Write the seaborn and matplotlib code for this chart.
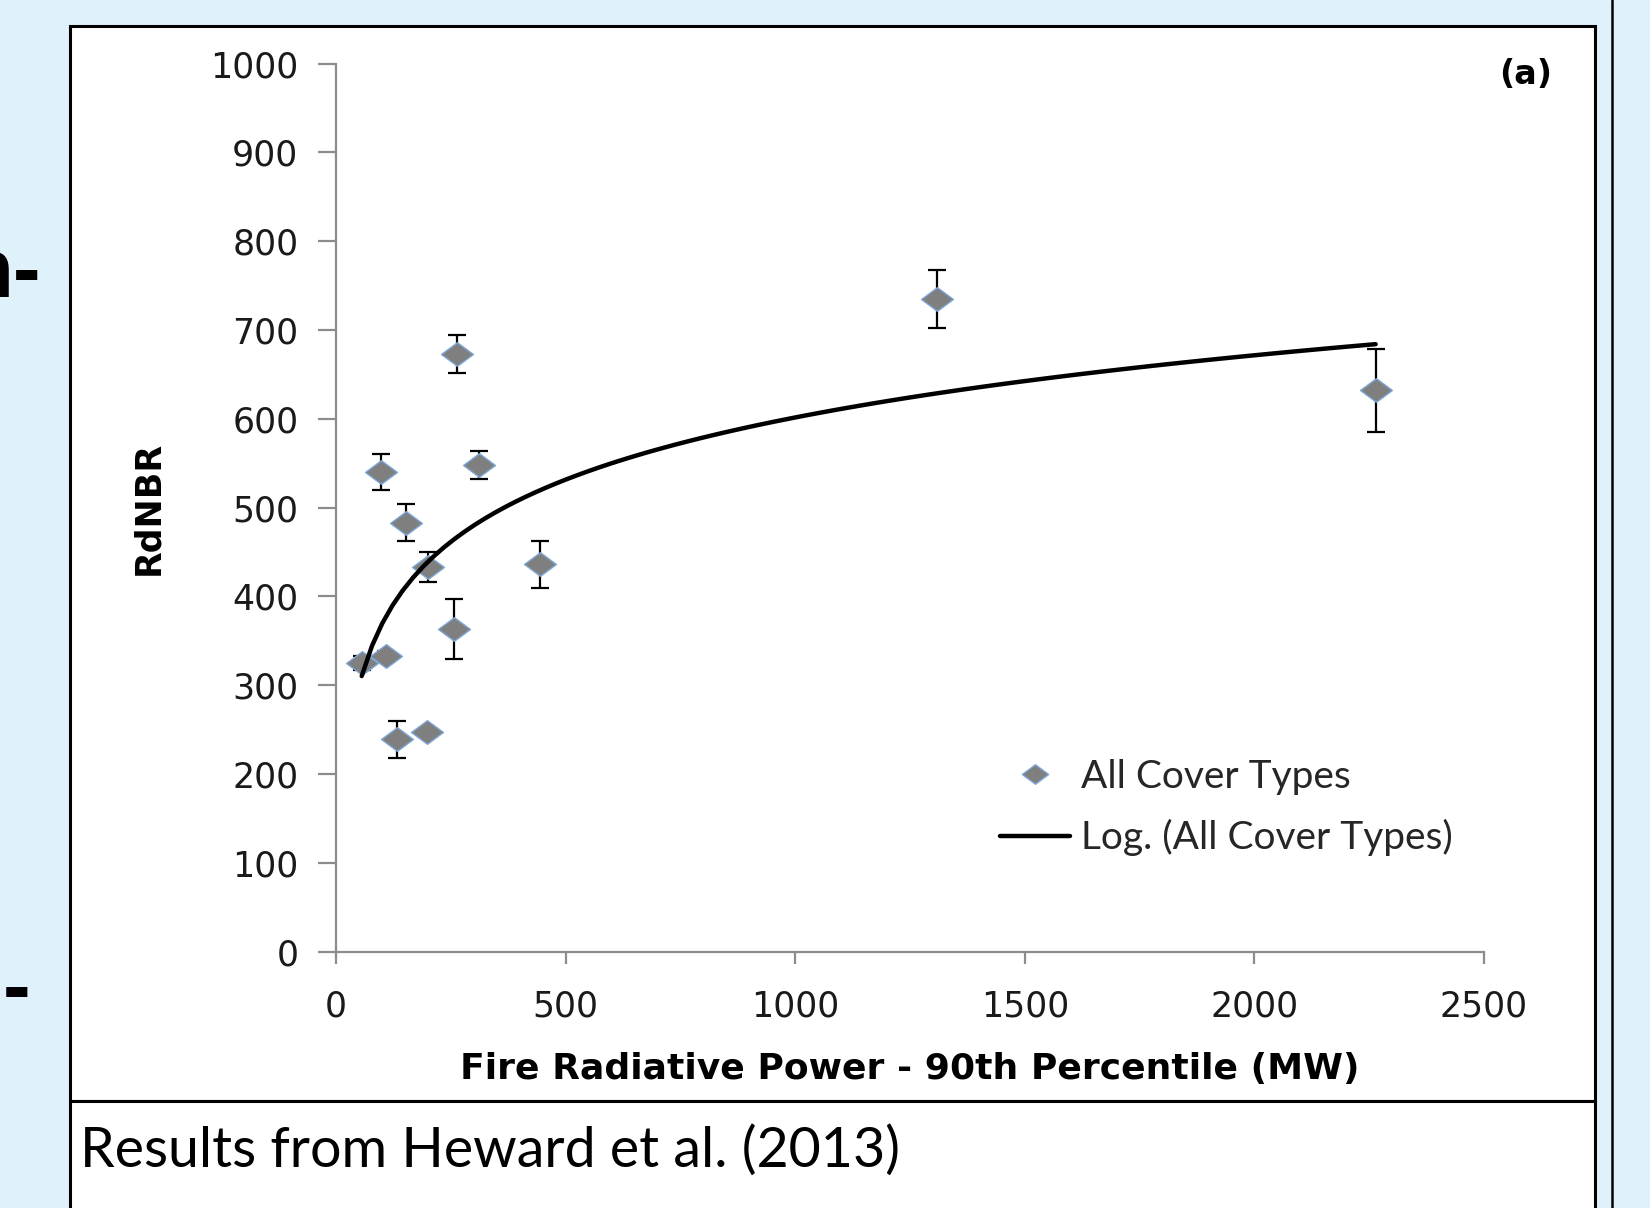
import numpy as np
import matplotlib.pyplot as plt
import seaborn as sns
from matplotlib.path import Path
from matplotlib.patches import Rectangle
from matplotlib.lines import Line2D

# data
frp = [56, 98, 109, 132, 153, 198, 200, 256, 263, 312, 445, 1308, 2264]
rdnbr = [325, 540, 333, 239, 483, 247, 433, 363, 673, 548, 436, 735, 632]
err = [8, 20, 6, 21, 21, 5, 17, 34, 21, 16, 26, 33, 47]
xticks = [0, 500, 1000, 1500, 2000, 2500]
yticks = [0, 100, 200, 300, 400, 500, 600, 700, 800, 900, 1000]

W, H = 1650, 1208

sns.set_style("white")
plt.rcParams['font.family'] = ['DejaVu Sans']

fig = plt.figure(figsize=(W / 100, H / 100), dpi=100, facecolor='#dff2fc')


def fx(px):
    return px / W


def fy(py):
    return 1 - py / H


# slide boxes
fig.add_artist(Rectangle((fx(70), fy(1101)), fx(1595) - fx(70), fy(26) - fy(1101),
                         transform=fig.transFigure, facecolor='white',
                         edgecolor='black', lw=2.2, zorder=-2))
fig.add_artist(Rectangle((fx(70), fy(1230)), fx(1595) - fx(70), fy(1101) - fy(1230),
                         transform=fig.transFigure, facecolor='white',
                         edgecolor='black', lw=2.2, zorder=-2))
fig.add_artist(Line2D([fx(1612), fx(1612)], [0, 1], transform=fig.transFigure,
                      color='black', lw=1.8, zorder=-1))

# cut-off slide text on the left
fig.text(fx(41), fy(297), "n-", ha='right', va='baseline', fontsize=60,
         fontweight='bold', color='black', family='Liberation Sans')
fig.text(fx(30.5), fy(1014), "-", ha='right', va='baseline', fontsize=60,
         fontweight='bold', color='black', family='Liberation Sans')

x0, x1 = 336, 1484
y0, y1 = 951.6, 63.6
ax = fig.add_axes([fx(x0), fy(y0), fx(x1) - fx(x0), fy(y1) - fy(y0)])
ax.patch.set_visible(False)

diamond = Path([(-1, 0), (0, 0.74), (1, 0), (0, -0.74), (-1, 0)],
               [Path.MOVETO, Path.LINETO, Path.LINETO, Path.LINETO, Path.CLOSEPOLY])

ax.errorbar(frp, rdnbr, yerr=err, fmt='none', ecolor='black', elinewidth=1.6,
            capsize=6.8, capthick=1.6, zorder=2)
sns.regplot(x=frp, y=rdnbr, logx=True, ci=None, scatter=False, ax=ax,
            line_kws=dict(color='black', lw=3.2, zorder=4))
sns.scatterplot(x=frp, y=rdnbr, ax=ax, marker=diamond, s=23 ** 2, color='#7f7f7f',
                edgecolor='#7ea6d6', linewidth=1.0, zorder=3)

ax.set_xlim(0, 2500)
ax.set_ylim(0, 1000)
ax.set_xticks(xticks)
ax.set_yticks(yticks)
for s in ['top', 'right']:
    ax.spines[s].set_visible(False)
for s in ['left', 'bottom']:
    ax.spines[s].set_color('#8c8c8c')
    ax.spines[s].set_linewidth(1.6)
ax.tick_params(axis='y', direction='out', length=13, width=1.6, color='#8c8c8c',
               labelsize=25, pad=14, labelcolor='#1a1a1a', left=True)
ax.tick_params(axis='x', direction='out', length=8.5, width=1.6, color='#8c8c8c',
               labelsize=25, pad=19, labelcolor='#1a1a1a', bottom=True)

ax.set_xlabel('Fire Radiative Power - 90th Percentile (MW)', fontsize=26,
              fontweight='bold', color='black', va='top')
ax.xaxis.set_label_coords(0.5, -0.113)
ax.set_ylabel('RdNBR', fontsize=25, fontweight='bold', color='black')
ax.yaxis.set_label_coords(-0.149, 0.5)

fig.text(fx(1526), fy(75), '(a)', ha='center', va='center', fontsize=24,
         fontweight='bold', color='black')

handles = [Line2D([], [], ls='none', marker=diamond, markersize=19,
                  markerfacecolor='#7f7f7f', markeredgecolor='#7ea6d6', markeredgewidth=1.0),
           Line2D([], [], color='black', lw=3.2)]
leg = ax.legend(handles, ['All Cover Types', 'Log. (All Cover Types)'],
                loc='upper left', bbox_to_anchor=(fx(1000), fy(759)),
                bbox_transform=fig.transFigure, frameon=False,
                prop={'family': 'Lato', 'size': 28}, handlelength=1.8,
                handletextpad=0.28, labelspacing=0.62, borderaxespad=0, borderpad=0)

fig.text(fx(80), fy(1151), 'Results from Heward et al. (2013)', ha='left', va='center',
         fontsize=40, family='Lato', color='black')

fig.savefig('out.png', dpi=100, facecolor=fig.get_facecolor())
